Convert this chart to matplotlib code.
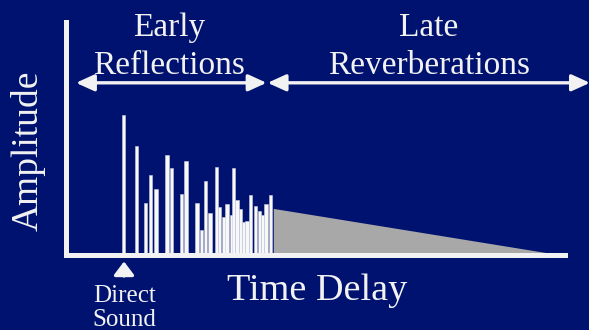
import matplotlib
matplotlib.use("Agg")
import matplotlib.pyplot as plt

# ---- data ----
reflection_delays = [11.48, 14.17, 15.97, 16.89, 18.04, 20.24, 21.10, 23.11, 24.05, 26.25,
                     27.19, 27.99, 28.86, 30.20, 30.72, 31.66, 32.26, 33.21, 33.61, 34.27,
                     35.01, 35.53, 36.27, 37.01, 37.94, 38.74, 39.34, 40.08, 41.02]
reflection_amps = [0.601, 0.468, 0.224, 0.345, 0.285, 0.429, 0.372, 0.262, 0.402, 0.222,
                   0.107, 0.316, 0.179, 0.376, 0.207, 0.162, 0.219, 0.170, 0.372, 0.237,
                   0.197, 0.142, 0.145, 0.258, 0.210, 0.190, 0.172, 0.220, 0.258]
tail_delays = [41.54, 99.2]
tail_amps = [0.200, 0.0]
region_labels = [("Early", "Reflections"), ("Late", "Reverberations")]
region_bounds = [(2.0, 40.2), (40.4, 105.0)]

BG = "#001270"
FG = "#f2f2f2"
W, H = 589, 330
SERIF = ["Liberation Serif", "DejaVu Serif"]

fig = plt.figure(figsize=(W / 100, H / 100), dpi=100, facecolor=BG)

def fx(px):
    return px / W

def fy(py):
    return 1 - py / H

ax = fig.add_axes([fx(66), fy(255), (565 - 66) / W, (255 - 22) / H])
ax.set_facecolor(BG)
ax.set_xlim(0, 100)
ax.set_ylim(0, 1)
for s in ["top", "right"]:
    ax.spines[s].set_visible(False)
for s in ["left", "bottom"]:
    ax.spines[s].set_color(FG)
    ax.spines[s].set_linewidth(3.6)
    ax.spines[s].set_capstyle("projecting")
    ax.spines[s].set_zorder(5)
ax.set_xticks([])
ax.set_yticks([])

ax.bar(reflection_delays, reflection_amps, width=0.62, color="#f8f8f8",
       edgecolor="#c9cbe0", linewidth=0.4, zorder=3)
ax.fill_between(tail_delays, tail_amps, 0, color="#a8a8a8", linewidth=0, zorder=2)

# region arrows
for (x0, x1) in region_bounds:
    ax.annotate("", xy=(x1, 0.739), xytext=(x0, 0.739), xycoords="data",
                annotation_clip=False,
                arrowprops=dict(arrowstyle="<|-|>,head_length=0.55,head_width=0.25",
                                mutation_scale=20, color=FG, lw=2.4,
                                shrinkA=0, shrinkB=0))

# region labels
centers = [168.8, 428.7]
for (l1, l2), cx in zip(region_labels, centers):
    fig.text(fx(cx), fy(36), l1, ha="center", va="baseline", fontsize=24,
             color=FG, family=SERIF)
    fig.text(fx(cx), fy(74), l2, ha="center", va="baseline", fontsize=24,
             color=FG, family=SERIF)

fig.text(fx(317.5), fy(300), "Time Delay", ha="center", va="baseline",
         fontsize=27.5, color=FG, family=SERIF)
fig.text(fx(28), fy(151), "Amplitude", ha="center", va="center", rotation=90,
         fontsize=27, color=FG, family=SERIF)

fig.text(fx(124.2), fy(301.7), "Direct", ha="center", va="baseline",
         fontsize=18, color=FG, family=SERIF)
fig.text(fx(124.2), fy(326), "Sound", ha="center", va="baseline",
         fontsize=18, color=FG, family=SERIF)
ax.annotate("", xy=(124, H - 261.5), xytext=(124, H - 276),
            xycoords="figure pixels", textcoords="figure pixels",
            arrowprops=dict(arrowstyle="-|>,head_length=0.45,head_width=0.34",
                            mutation_scale=18, color=FG, lw=2.4,
                            shrinkA=0, shrinkB=0))

fig.savefig("out.png", dpi=100, facecolor=BG)
